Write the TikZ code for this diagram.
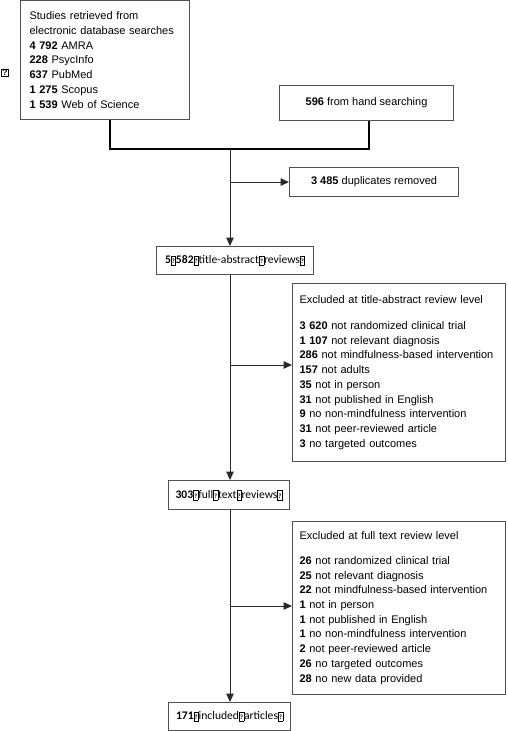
\documentclass[tikz,border=0pt]{standalone}
\usepackage{fontspec}
\setmainfont{Liberation Sans}
\newfontfamily\calib{Carlito}
\usetikzlibrary{arrows.meta}
\definecolor{bordergray}{RGB}{80,80,80}
\definecolor{linegray}{RGB}{40,40,40}
\newcommand{\qb}{{\setlength{\fboxsep}{0.5pt}\setlength{\fboxrule}{0.5pt}\fbox{\rule[-1pt]{0pt}{8pt}\fontsize{6.5}{6.5}\selectfont\bfseries ?}}}
\begin{document}
\begin{tikzpicture}[x=1pt,y=-1pt,
  box/.style={draw=bordergray, line width=1.1pt, inner sep=0pt, anchor=north west,
              font=\fontsize{11}{14.7}\selectfont},
  listbox/.style={box, align=left, inner xsep=#1},
  cbox/.style={box, font=\calib\fontsize{11.6}{13}\selectfont},
  arr/.style={-{Triangle[length=8.5pt,width=7.5pt]}, line width=1pt, draw=linegray},
  thickline/.style={line width=2.6pt, draw=black}]
\useasboundingbox (0,0) rectangle (507,731);

\node[listbox=9pt, minimum height=119pt, text width=151pt] (db) at (20,0)
 {Studies retrieved from\\electronic database searches\\
  \textbf{4 792} AMRA\\\textbf{228} PsycInfo\\\textbf{637} PubMed\\
  \textbf{1 275} Scopus\\\textbf{1 539} Web of Science};

\node[draw=black, line width=0.6pt, inner xsep=1.2pt, inner ysep=0.8pt, font=\bfseries\fontsize{8.5}{8.5}\selectfont] (qm) at (5,73) {?};

\node[box, minimum width=174pt, minimum height=35pt] (hand) at (279,85) {\textbf{596} from hand searching};

\node[box, minimum width=169pt, minimum height=29pt] (dup) at (289,167) {\textbf{3 485} duplicates removed};

\node[cbox, minimum width=157pt, minimum height=28pt] (tar) at (156,246)
 {\textbf{5}\qb\textbf{582}\qb title-abstract\qb reviews\qb};

\node[listbox=7pt, minimum height=178pt, text width=199pt] (exta) at (292,283)
 {Excluded at title-abstract review level\\[11.3pt]
  \textbf{3 620} not randomized clinical trial\\
  \textbf{1 107} not relevant diagnosis\\
  \textbf{286} not mindfulness-based intervention\\
  \textbf{157} not adults\\
  \textbf{35} not in person\\
  \textbf{31} not published in English\\
  \textbf{9} no non-mindfulness intervention\\
  \textbf{31} not peer-reviewed article\\
  \textbf{3} no targeted outcomes};

\node[cbox, minimum width=121pt, minimum height=29pt] (ftr) at (168,480)
 {\textbf{303}\qb full\qb text\qb reviews\qb};

\node[listbox=7pt, minimum height=173pt, text width=199pt] (exft) at (292,521)
 {Excluded at full text review level\\[10pt]
  \textbf{26} not randomized clinical trial\\
  \textbf{25} not relevant diagnosis\\
  \textbf{22} not mindfulness-based intervention\\
  \textbf{1} not in person\\
  \textbf{1} not published in English\\
  \textbf{1} no non-mindfulness intervention\\
  \textbf{2} not peer-reviewed article\\
  \textbf{26} no targeted outcomes\\
  \textbf{28} no new data provided\\[6pt]};

\node[cbox, minimum width=122pt, minimum height=28pt] (inc) at (168,702)
 {\textbf{171}\qb included\qb articles\qb};

\coordinate (j1) at (110,149);
\coordinate (j2) at (369,149);
\coordinate (jc) at (230,149);
\coordinate (b1) at (230,365);
\coordinate (b2) at (230,606);

\draw[thickline] (j1 |- db.south) -- (j1) -- (j2) -- (j2 |- hand.south);
\draw[arr] (jc) -- (jc |- tar.north);
\draw[arr] (jc |- dup.west) -- (dup.west);
\draw[arr] (jc |- tar.south) -- (jc |- ftr.north);
\draw[arr] (b1) -- (b1 -| exta.west);
\draw[arr] (jc |- ftr.south) -- (jc |- inc.north);
\draw[arr] (b2) -- (b2 -| exft.west);
\end{tikzpicture}
\end{document}
